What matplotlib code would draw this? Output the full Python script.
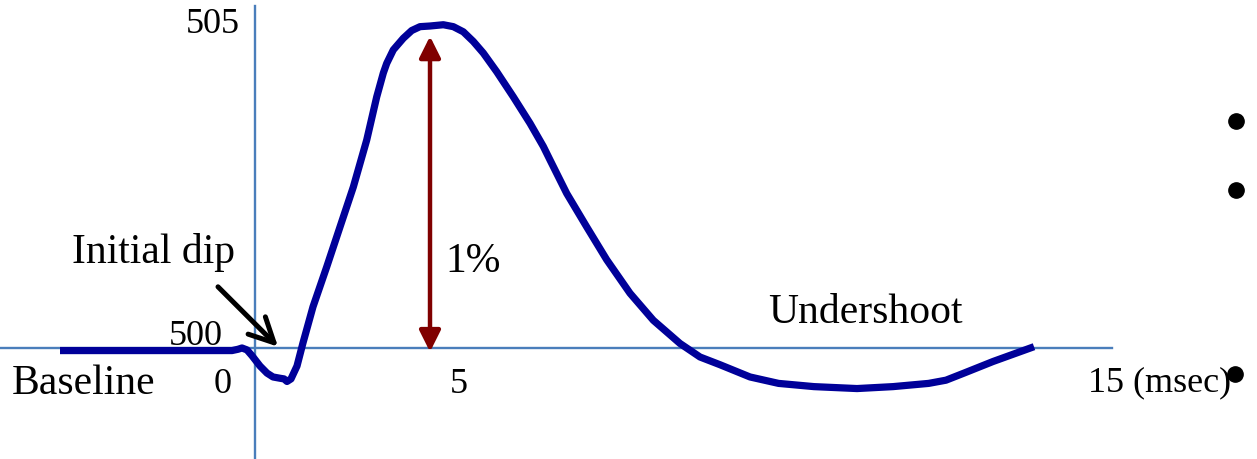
import matplotlib
matplotlib.use("Agg")
import matplotlib.pyplot as plt

plt.rcParams['font.family'] = ['Liberation Serif', 'DejaVu Serif']

# BOLD signal curve (time in msec-ish schematic units, signal level)
timeVals = [-4.875, -0.575, -0.425, -0.325, -0.2, -0.075, 0.125, 0.3, 0.45, 0.625,
            0.725, 0.8, 0.9, 1.05, 1.2, 1.45, 1.793, 2.125, 2.458,
            2.793, 3.043, 3.208, 3.293, 3.458, 3.708, 3.918, 4.125, 4.375, 4.708,
            4.958, 5.208, 5.458, 5.708, 6.043, 6.458, 6.875, 7.208, 7.375, 7.793,
            8.293, 8.793, 9.375, 9.958, 10.625, 11.125, 11.625,
            12.375, 13.09, 13.975, 15.05, 15.95, 16.84, 17.275, 17.725, 18.45, 19.475]
signalVals = [499.96, 499.96, 499.98, 500.00, 499.97, 499.88, 499.72, 499.61, 499.55, 499.53,
              499.52, 499.48, 499.52, 499.72, 500.08, 500.64, 501.26, 501.88, 502.50,
              503.23, 503.90, 504.27, 504.42, 504.63, 504.81, 504.93, 504.99, 505.00, 505.02,
              504.99, 504.91, 504.76, 504.58, 504.29, 503.90, 503.49, 503.13, 502.92, 502.40,
              501.88, 501.37, 500.85, 500.43, 500.07, 499.86, 499.74,
              499.55, 499.45, 499.40, 499.37, 499.40, 499.45, 499.50, 499.61, 499.79, 500.02]

# slide bullets on the right edge
bulletX = [24.525, 24.525, 24.5]
bulletY = [503.52, 502.45, 499.60]

xMin, xMax = -6.375, 25.05
yMin, yMax = 498.276, 505.404

fig = plt.figure(figsize=(12.57, 4.59), dpi=100)
ax = fig.add_axes([0, 0, 1, 1])
ax.set_xlim(xMin, xMax)
ax.set_ylim(yMin, yMax)
ax.axis('off')

axisColor = '#4a7ebb'
ax.plot([xMin, 21.425], [500, 500], color=axisColor, lw=1.7, zorder=1)
ax.plot([0, 0], [yMin, 505.31], color=axisColor, lw=1.7, zorder=1)

ax.plot(timeVals, signalVals, color='#000099', lw=5.2, solid_joinstyle='round',
        solid_capstyle='butt', zorder=3)

# 1% amplitude arrow
ax.annotate('', xy=(4.375, 504.84), xytext=(4.375, 499.94),
            arrowprops=dict(arrowstyle='<|-|>', color='#800000', lw=3.2, mutation_scale=32,
                            shrinkA=0, shrinkB=0), zorder=2)

# initial dip arrow
ax.annotate('', xy=(0.575, 500.02), xytext=(-0.925, 500.95),
            arrowprops=dict(arrowstyle='->', color='black', lw=3.6, mutation_scale=44,
                            shrinkA=0, shrinkB=0), zorder=4)

ax.plot(bulletX, bulletY, 'o', color='black', ms=11)

ax.text(-0.375, 505.02, '505', fontsize=26, ha='right', va='center')
ax.text(-0.8, 500.05, '500', fontsize=26, ha='right', va='baseline')
ax.text(-0.8, 499.30, '0', fontsize=26, ha='center', va='baseline')
ax.text(5.1, 499.30, '5', fontsize=26, ha='center', va='baseline')
ax.text(20.825, 499.32, '15 (msec)', fontsize=26, ha='left', va='baseline')
ax.text(-6.075, 499.28, 'Baseline', fontsize=30, ha='left', va='baseline')
ax.text(-4.575, 501.32, 'Initial dip', fontsize=30, ha='left', va='baseline')
ax.text(4.75, 501.18, '1%', fontsize=30, ha='left', va='baseline')
ax.text(12.825, 500.39, 'Undershoot', fontsize=30, ha='left', va='baseline')

fig.savefig('out.png', dpi=100)
